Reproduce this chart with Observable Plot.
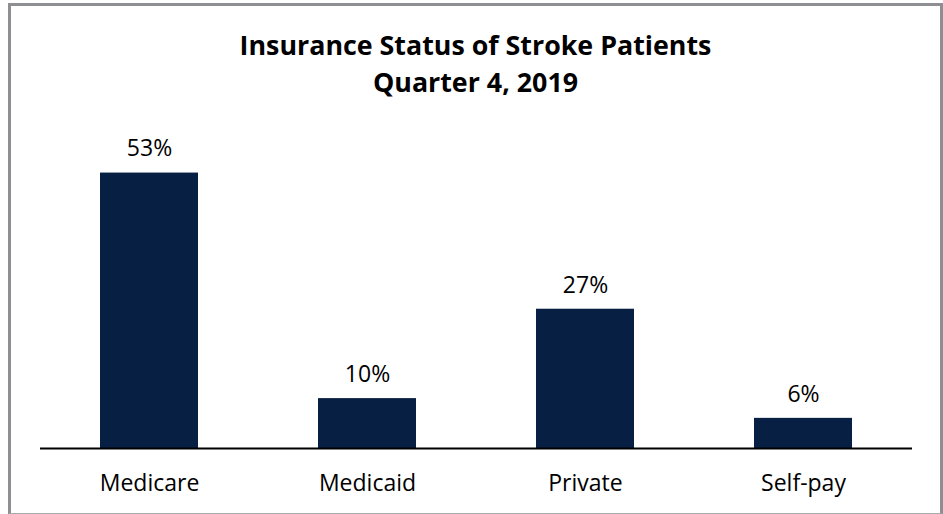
<!DOCTYPE html>
<html>
<head>
<meta charset="utf-8">
<script src="https://cdn.jsdelivr.net/npm/d3@7"></script>
<script src="https://cdn.jsdelivr.net/npm/@observablehq/plot@0.6"></script>
<style>
  html, body { margin: 0; padding: 0; width: 943px; height: 514px; overflow: hidden; background: #fff; }
  body { position: relative; font-family: "Open Sans", sans-serif; }
  #frame { position: absolute; left: 8px; top: 3px; width: 929px; height: 507px; border: 3px solid #8e8f93; border-bottom-width: 1px; border-bottom-color: #a9aaad; box-sizing: content-box; }
  #title { position: absolute; left: 11px; width: 929px; top: 27px; text-align: center; font-weight: 700; font-size: 26.8px; line-height: 36.7px; color: #000; }
  #chart { position: absolute; left: 0; top: 105px; }
</style>
</head>
<body>
<div id="frame"></div>
<div id="title">Insurance Status of Stroke Patients<br>Quarter 4, 2019</div>
<div id="chart"></div>
<script>
const categories = ["Medicare", "Medicaid", "Private", "Self-pay"];
const values = [53, 9.6, 26.8, 5.8];
const labels = ["53%", "10%", "27%", "6%"];

const data = categories.map((c, i) => ({category: c, value: values[i], label: labels[i]}));

const chart = Plot.plot({
  width: 943,
  height: 409,
  marginLeft: 40,
  marginRight: 31,
  marginTop: 0,
  marginBottom: 66,
  style: {fontFamily: "'Open Sans', sans-serif", color: "#000", background: "transparent", overflow: "visible"},
  x: {domain: categories, paddingInner: 0.55, paddingOuter: 0.275, label: null},
  y: {domain: [0, 66], axis: null},
  marks: [
    Plot.barY(data, {x: "category", y: "value", fill: "#061f42"}),
    Plot.ruleY([0], {stroke: "#000", strokeWidth: 2}),
    Plot.text(data, {x: "category", y: "value", text: "label", dy: -24, fontSize: 23, fill: "#000"}),
    Plot.axisX({tickSize: 0, tickPadding: 26.5, fontSize: 23, fill: "#000", label: null})
  ]
});
document.getElementById("chart").appendChild(chart);
</script>
</body>
</html>
